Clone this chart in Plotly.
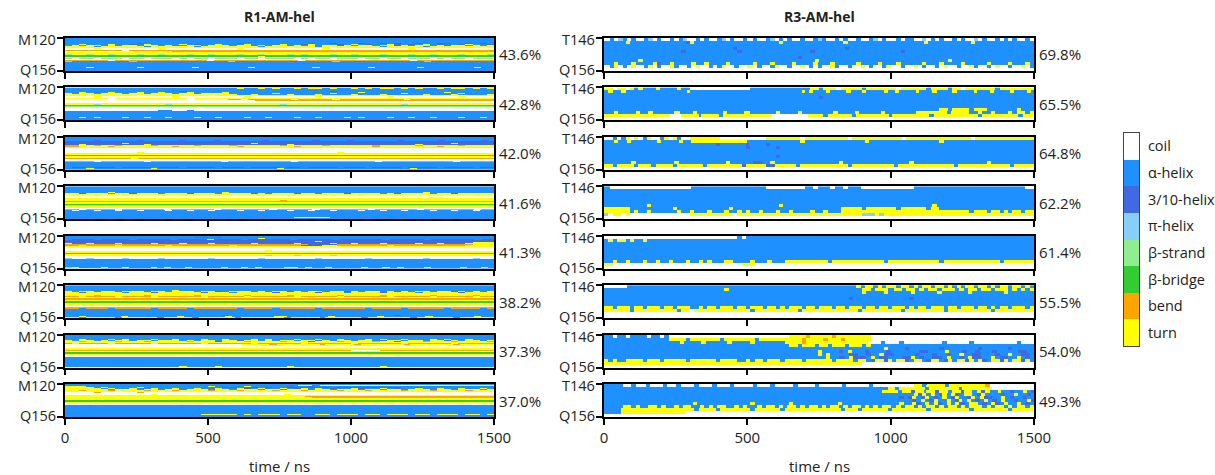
import re
import plotly.graph_objects as go

# ---------------- data ----------------
# DSSP states, bottom -> top in the legend
STATES = ["turn", "bend", "β-bridge", "β-strand", "π-helix", "3/10-helix", "α-helix", "coil"]
STATE_CODE = {"T": 0, "S": 1, "B": 2, "E": 3, "I": 4, "G": 5, "H": 6, "C": 7}
STATE_COLORS = ["#FFFF00", "#FFA500", "#32CD32", "#90EE90", "#87CEFA", "#4169E1", "#1E90FF", "#FFFFFF"]

TITLES = ["R1-AM-hel", "R3-AM-hel"]
LEFT_PCT = ["43.6%", "42.8%", "42.0%", "41.6%", "41.3%", "38.2%", "37.3%", "37.0%"]
RIGHT_PCT = ["69.8%", "65.5%", "64.8%", "62.2%", "61.4%", "55.5%", "54.0%", "49.3%"]
LEFT_RES = ["M120", "Q156"]
RIGHT_RES = ["T146", "Q156"]
N_LEFT = 37
N_RIGHT = 11
T_END = 1500
TIME_TICKS = [0, 500, 1000, 1500]

# Each residue row = DSSP codes spread evenly over 0-1500 ns.
# Tokens separated by spaces; "H40" = 40 units of H; other tokens are literal.
L1 = ["H", "H", "H", "H", "H", "H",
      "HHHHHHHHHHGHHHHHHHHHHHHHGHHHHHHHHHGHHGHHHGHHGHGHHGHHGGHHGHGH",
      "HHTHHHTHHGHTHHHHTHGHHTHHHTHHHHTHHGTHHHGHTHGHHTGHGHTHGHHGTHHG",
      "HTHTTHTHTTHTTHTHHTTHTTTHTTHTHTTHTHTHTTGTHTTHTTGTHTTHTGTTHTHT",
      "TTTTHTTTTTTHTTTTTTHTTTTTTTTHTTTTTTTHTTTTTTTTHTTTTTHTTTTTTTTT",
      "TTCTTTCTTTTTCTTTTCTTTTTTCTTTTTTCTTTTTCTTTTTTCTTTTTTTCTTTTTCT",
      "CCCCTCCCCCCCCTCCCCCCCCCCTCCCCCCCCCCCTCCCCCCCCCCCTCCCCCCCCCCC",
      "C",
      "CCTCCCCCTCCCCCCCCCCTCCCCCCCCCCCCCTCCCCCCCCCCTCCCCCCCCCCCCTCC",
      "SSSSSSSSCSSSSSSSSSSSSSSSSSSSSSSSSSSSSSSSSSSSSSSSSSSSSSSSSSSS",
      "CCCCCCCCTTTTTTTSSSSSSSSSSSSSSSSSSSSSSSSSSSSSSSSSSSSSSSSSSSSS",
      "T",
      "TTTTTTTTTTTTTTTCTTTTTTTTTTTTTTTTTTTTTTTCTTTTTTTTTTTTTTTTTTTT",
      "ETTETTETTTETTETTTETTETTTETTETTTETETTTETTETTTETTTETTETTTETTTE",
      "B",
      "BBBBBBBBBBBBBBBBBBBBBBBBBBBTBBBBBBBBBBBBBBBBBBBBBBBBBBBBBBBB",
      "T",
      "ECEECEEECEECEEECECEECEEECEECEEEECECEECEEECEECEECEEECECEECEEE",
      "C",
      "CCCCCCCCCCCCCCCCCCCTCCCCCCCCCCCCCCCCCCTCCCCCCCCCCCCCCCCCCCCC",
      "SSSSSSCSSSSSSSSSSSSSCSSSSSSSSSSSSCSSSSSSSSSSSSSSSCSSSSSSSSSSS",
      "IHHHHHHHHIHHHHHHHHHHHHHIHHHHHHHHHHHHHHIHHHHHHHHHHHHIHHHHHHHHH",
      "H", "H", "H", "H", "H", "H",
      "HHHTHHHHHHTHHHHHHHTHHHHHHHTHHHHHHHHTHHHHHHHTHHHHHHTHHHHHHHTHH",
      "H", "H", "H"]

L2 = ["H",
      "HHHHHHHHHHHHHHHHHHHHHHHHTHHTHTHHTHTTHTHHTHTHTTHTHTHHTHTTHTHT",
      "H", "H",
      "HHHHHHHHHHHHHHHHGHHHHHHHHHHHHHHHHHHHHGHHHHHHHHHHHHHHHHHHHHHH",
      "HHTHHHTHHHTHHTHHHTHHHHTHHHHHHHHHHHHHHHHHHTHHHHHHHHHHHTHHHHHH",
      "THTTHTTTHTTHTTTHTTHTTTTHHHHHHTHHHHHHHTHHHHHHHHHTHHHHHHHTHHHH",
      "TTTTTTTTTTTTTTTTTTTTTTTTHHTHHHHTHHHTHHHHTHHHTHHHHHTHHHTHHHHT",
      "TTTTTTTTTTTTTTTTTTTTTTTTTTHTTTHTTTTHTTTTHTTTHTTTTTHTTTTHTTTT",
      "TTTCTTTTTTCTTTTTTTTTCTTTTTTTTTTTTTTTTTTTTTTTTTTTTTTTTTTTTTTT",
      "CCCCTCCCCCCCCCCTCCCCCCCCCTCCCCCCCCCTCCCCCCCCCTCCCCCCCCCTCCCC",
      "C",
      "TTTTTTCTTTTTTTTTTCTTTTTTTTTTTTTTTTTTTTTTTTTTTTTTTTTTTTTTTTTT",
      "CCCCCCCCCCCCCCCCCCCCCCCSSCSSSSSSCSSSSSCSSSSSSSSSCSSSSSSSSSSSS",
      "CCCCCCCCCCCCCCCCCCCCCCCCCCCSSSSSSSSSSSSSSSSSSSSSSSSSSSSSSSSSS",
      "C", "C", "T", "T",
      "TTTTETTTTTTTTTETTTTTTTTTTTTTTTETTTTTTTTTTTTTTTTETTTTTTTTTTTT",
      "B", "E", "T", "C", "C",
      "CCCCCCCCCCCCCHHCCHCCCCCCCCCCCCCCCCCCCCCCCCCCCCCCCCCCCCCCCCCC",
      "H", "H", "H", "H", "H", "H", "H",
      "HHTHTHHHTHHTHHTHHHTHHTHHHTHHTHHHTHHTHHHTHTHHHTHHTHHTHHHTHHTH",
      "H", "H", "H"]

L3 = ["H", "H", "H",
      "HHHHHHHTHHHHHTHHHHHHHHHHHHHHHHHTHHHHTHHHHHHHHHHHHHHHTHHHHHHH",
      "HHHHGHHHHHGHHHHHGHHHHGHHHHHHGHHHHHHGHHHHGHHHHHHGHHHHHGHHHHHGH",
      "G", "G",
      "GGGGGGGGTGGGGGGGGGGGGGGGGGTGGGGGGGGGGGGGGGGGGGGGGGGGGGTGGGGG",
      "GGTGGGGGGGGTGGGGGGGGGGGGGGGGGGGTGGGGGGGGGGGGGGGGGTGGGGGGGGGG",
      "SSTTSTTSTTTTSTTTTTSTTTTSTTTTTTSTTTTTSTTTTTTSTTTTTSTTTTTSTTTT",
      "SSTTTTSTTTTTTTTSTTTTTTTTSTTTTTTTSTTTTTTTTTTSTTTTTTTTSTTTTTTT",
      "T", "T", "C", "C", "C", "C",
      "CCCCCCCCCCTCCCCCCCCCCCCCCCCCCCCCCCCCCCTCCCCCCCCCCCCCCCCCCCCC",
      "T", "T", "B",
      "EEBEEEEEEBEEEEEEEEEEEEEBEEEEEEEEEEEEEEEEEEBEEEEEEEEEEEEEEEEE",
      "T", "T",
      "SSSSSSSSSTSSSSSSSSSSSSSSSSSSSSSSSSSSSSSSSSSSSSSSSSSSSSSSSSS",
      "C", "C",
      "SSSSCSSSSSSCSSSSSSSSSSCSSSSSSSSSCSSSSSSSSSSSCSSSSSSSSSSCSSSSS",
      "H", "H", "H", "H", "H", "H",
      "HGGHGGGHGGGGHGGGHGGGGHGGGHGGGGHGGHGGGGHGGGHGGGGHGGGGHGGGGHGG",
      "HHHTHHHHHHHHTHHHHHHHHHHHHHHHHHTHHHHHHHHHHHHHHHHHHTHHHHHHHHHHH",
      "H"]

L4 = ["H", "H", "H", "H", "H", "H",
      "HHHHHHTHHHHHHHHHHHHHHHTHHHHHHHHHHHHHHHHHHHHHHHHHHHTHHHHHHHHH",
      "HTHHTGHTHHTHGHTHHTHGTHHTHTHHGTHHTHTGHHTHHTGHTHTHHGTHTHTHGTHH",
      "TTGTTTHTTGTTTHTTTGTTTHTTTTGTHTTTGTTHTTTGTTTTHTGTTTTHTTGTTTTT",
      "T",
      "CTCCTCCCTCCCCTCCTCCCCTCCCCCTCCCTCCCCCTCCCTCCCCTCCCCCTCCCCTCC",
      "C",
      "CCCCCCCCCCCCCCCCCCCCCCCCCCCCCCCCCCCCCCCCCCCCCCCCCCCTTCCCCCCC",
      "T", "T",
      "TTTTTTTTTTTTTTTTTTTTTTTTTTTTTTSTTTTTTTTTTTTTTTTTTTTTTTTTTTTT",
      "CCCCTCCCCCCCCCCCCTCCCCCCCCCCCCCCCTCCCCCCCCCCCCCCCCCCCCCCCCCC",
      "S", "T", "T", "B", "E", "T", "T", "C",
      "CCCCCCCCCSCCCCCCCCCCCCCCCCCCCCCCCCCCCCCCCCCCCCCCCCCCCCCCCCCC",
      "SSCSSSSCSSSSSSCSSSSSSCSSSSSSSCSSSSSCSSSSSSSCSSSSSSCSSSSSSSCSS",
      "HCHHCHHCHHCHHHCHHCHHCHHHCHHCHHHCHHCHHCHHHCHHCHHCHHHCHHCHHCHH",
      "H", "H", "H", "H", "H", "H",
      "HHHHHHHHHHHHHHHHHHHHHHHHHHHHHHHHTTTTTHHHHHHHHHHHHHHHHHHHHHHH",
      "HHHHHHHHHHHHHHHHHHHHHHHHHHHHHHHHTHTTHTHHHHHHHHHHHHHHHHHHHHHHH",
      "H"]

L5 = ["H",
      "HHHHHHHHHHHHHHHHHHGGHGHHHHHHHHHHHHHHHHHHHHHHHHHHHHHHHHHHHHHH",
      "HHHHHHHHHHHHHHHHHGGGGHGHHHHHHHHHHHHHHHHHHHHHHHHHHHHHHHHHHHHH",
      "HHHHHHHHHHHHHHHHHHHHHHHHHHHTHHHHHHHHHHHHHHHHHHHHHHHHHHHHHHHH",
      "HGGGHGGGGHGGGGGHGGGGTGGGGHGGGGGGHGGGGGHGGGGGGHGGGGGHGGGGGGHGG",
      "G",
      "GGGGGGGGGGGGGGGGGGGGGGGGGGGGGGGGGGGTGGGGGGGGGGGGGGGGGGGGGGGG",
      "GGGGGGGGGGGGGGGGGGGGGGGGGGGGGGGGGGGGGGGGGGGGGGGGGGGGGGGGGTTT",
      "TGGTGGGTGGGGTGGGTGGGTGGGGGTGGGGGTGGGGTGGTGGGTGGGGTGGTGGGTTTT",
      "SSSSSSSSSSSSSSSSSSSSSSSSSSSSSSSSSSGGGGSSSSSSSSSSSSSSSSSSSTTT",
      "SSTSSSSTSSSSSSTSSSSSSSSTSSSSSSSSSGGGTTSSSSSSSTSSSSSSSSSSTTTT",
      "T", "T", "C", "C", "C",
      "CCCCCCCCCCCCCCCCCCCCCCCCCCCCTCCCCCCCCCCCCCCCCCCCCCCCCCCCCCCC",
      "T", "T", "B",
      "TTTTTTTTTTTTTTTTTTTTTTTTTTTTEETETEETEETETETTTTTTTTTTTTTTTTTT",
      "T",
      "TTTTTTTTTTTTTTTTTTTTTTTTTTTTETTTETTTTETTTTTTTTTTTTTTTTTTTTTT",
      "C", "C",
      "ICCICCCCICCCCICCCCCCICCCCCCICCCCCCCICCCCCCICCCCCCCICCCCCCICC",
      "H", "H", "H", "H", "H", "H", "H", "H",
      "H",
      "ITHHHTHHTHHHTHTHHTHHHHTHHTHTHHHTTHTHHTHHHHTHHTHTHHHTHHHHTHHTH",
      "IIIIIHHHHHHHHHHHHHHHHHHHHHHHHHHHHHHHHHHHHHHHHHHHHHHHHHHHHHHH"]

L6 = ["H", "H", "H", "H", "H",
      "HHHHHHHHHHHHHHHTHHHHHHHHHHHHHHHHHHHHHHHHHHHHHHHHHHHHHHHHHHHH",
      "HHHHTHHHHHHTHHHTTHTHHTTHTHTTHTHTTHTHHTHTTHTHTHTTHTHTHTTHTHTH",
      "THTTHTTHTTTHTTHTTTHTTGHTTTHTHTTGTHTTHTTGTHTTHTGTHTTHTTGTHTHT",
      "TTGTTTTTHTTTGTTTTTTGTTTHTTTTTGTTTTTGTTTHTTTTGTTTTHTTTTTGTTTT",
      "T", "T",
      "TTTTSTTTTTTSTTTTTTSTTTTTTSTTTTTSTTTTTTSTTTTTSTTTTTTSTTTTTSTT",
      "SSTSSSSTSSSSTSSSSSSTSSSSSTSSSSSSTSSSSSTSSSSSSTSSSSSTSSSSSTSS",
      "CTCCTCCCTCCTCCCCTCCCTCCCCTCCCTCCCCTCCCTCCCCTCCCTCCCCTCCCTCCC",
      "S", "S", "S", "T", "B", "B", "T", "T", "T", "C",
      "CTCCCCCTCCCCCCTCCCCCCCCTCCCCCCTCCCCCCCCTCCCCCCTCCCCCCCTCCCCC",
      "S",
      "SSHSSSHSSSSSHSSSSHSSSSSSHSSSSHSSSSSHSSSSSSHSSSSHSSSSSHSSSSHS",
      "H", "H", "H", "H", "H", "H", "H",
      "HHHHHHHHHHHHHHHHHHHHHHGHHHHHHHHHHHHHHHHHHHHHHHGHHHHHHHHHHHHH",
      "HHTHHHHHTHHHHHHHTHHHHHHTHHHHHHTTHHHHHHTHHHHHHTHHHHHHTHHHHHHTHH",
      "TTHTTTTHTTTTTHTTTTHTTTTTHTTTTTTHTTTTHTTTTTHTTTTTTHTTTTTHTTTTT"]

L7 = ["H", "H", "H", "H", "H",
      "HHTHHHTHTHHHTHHTHHHTHHTHHHTHTHHHTHHTHHTHHHTHTHHTHHHTHTHHTHHH",
      "THTTHTHTTHTTHTTTHTHTTHTTGTTHTHTTHTTGTHTTHTTHGTTHTTHTTGTHTTHT",
      "TTSTTTTSTTTSTTTTTSTTTGTTTSTTTTSTTTGTTTSTTTTSTTGTTTSTTTSTTTTS",
      "T", "S",
      "STSSSSTSSSSSTSSSSSSTSSSSSSTSSSSSSTSSSSSSTSSSSSSTSSSSSSTSSSSS",
      "CCCCCCCCCCCCCCCCCCCCCCCCCTTTTSTTTTTTSTTTTSTTTTTTSTTTTTTSTTTTT",
      "CCCCCCCCCCCCCCCCCCCCCCCCCCCCTTTTCCTTTTCCCTTTTCCCCTTTCCCTTTTCCC",
      "C", "C", "T", "T",
      "SSSSSSSSSSSSSSSSSSSSSSSSSSSSSSSSSSSSSSSSCCCCSSSSSSSSSSSSSSSS",
      "T", "T", "B", "B", "T", "C", "C", "H",
      "H", "H", "H", "H", "H", "H", "H", "H", "H",
      "HHHHHHHHHHHHHHHHTHHHHTHHHHHHHHHTHHHHHHHHHHHHTHHHHHHHHHHHHHHH",
      "CCCCCCCCCCCCCCCCTTTTTTTTTTTTTTTTTTTTTTTTTTTTTTTTTTTTTTTTTTTT"]

L8 = ["H",
      "HHHHHHHHHHHHHHHHHHHHHHHHHHHHHHHHHCCHCCCCCCCCCCCCCCCCCCCCCCCCC",
      "TTTHHHHHHHHHHHHHHHHHTHHHHTHHHHHGHHGHHHHHHHHHHHHHHHHHHHHHHHHH",
      "TTTTHTHHHHTHHHHHHHHHHHGGHGGHGHHGGGGGGHGGGGGGGGGHHGHHHHHHHHHH",
      "TTTHTTHHTHHHHTHHHHHTHHGHGGGHGGHGGGGHGGGGHGGGGGHGGHHHTHHHHTHH",
      "TTTTTHTHHTHHTHHTHHTHHTHHTGHTHHTHGTHTHGHHTGHHTHGHHTHHTHHTHHTH",
      "TTTTTTHTTTHTTHTTHTTTHTTHTTTHTTHTTTHTTHTTTHTTHTTHTTTHTTHTTTHT",
      "TTSTTTSTTTTSTTTSTTTTSTTTSTTTTSTTTSTTTTSTTTSTTTTSTTTSTTTTSTTT",
      "TTCTTTTCTTTTTCTTTTTTTTTTTTTTTTTTTTTTTTTTTTTTTTTTTTTTTTTTTTTT",
      "CCCCSCCCCCSCCCCCCCCCCCCCCCCCCCCCCCCCCCCCCCCCCCCCCCCCCCCCCCCC",
      "C",
      "CCCCCCCCCCCCTCCCCCCCCCCCCCCCCCCTCCCCCCCCCCCCCCCCCCCCCCCCCCCCC",
      "T",
      "TTTTTTTTTTTTTTTTTTTTTTTTTTTTTTTTTTTSSSSSSTSSSSSSSSSSSTTTTTTT",
      "TTTTTTTTTTTTTTTTTTTTTTTTTTTTTTTTTTSSSSSSSSSSSSSSSSSSSSSSSSSSS",
      "TTTTTTTTTTTTTTTTTTTTTTTTTTTTTTTTTTTSSSSSSSSSSSSSSSSSSSSSSSSSS",
      "T", "T", "B", "B", "T",
      "CCCCTCCCCCCCCCCTCCCCCCCCCCCCCCCCCCCTCCCCCCCCCCCCCCCCCCCCCCCCC",
      "C", "S",
      "H", "H", "H", "H", "H", "H", "H", "H", "H",
      "H",
      "HHHHHHHHHHHHHHHHHHHTTTTTHTHTTTHTTHHTTHTTTHTTHTTTHTTHTTTHTTHT",
      "H", "H"]

# right column: 100 units per row (15 ns each)
R1 = ["CHCIHCHCCHICHCCHCHICCHCHCCHICHCCHCHCCHICHCHCCHCCHIHCCHCHCCHCCHICHCCHCHHCCICHCHCCHCHCCICHCCHCHCHCCHC",
      "H5 T H13 GT H20 T H14 T H18 T H10 T H14",
      "H",
      "H30 G H25 G H43",
      "H18 G H12 G H16 G H20 G H30",
      "H",
      "H45 G H54",
      "H8 T H40 T H30 T H19",
      "HHTHHHTHHHHTGHHTHHHHTHHTHHHHTHHHHHTHHHTHHHHTHHHHTHHHTHHHHHTHHHHTHHHTHHHHHTHHHTHHHHTHHHHHTHHHHTHHHTH",
      "CHTCHCTCCHTCHCCTHCCHCTCCHCHTCCHCCTCHCCHTCCHCCTCHCHCCTHCCHCCTCHCCHTCCHCCTCHCCHCTCCHCCTHCCHCTCCHCCTCH",
      "C"]

R2 = ["TTCTTCT HTHHHTHHHHTHH C14 H14 TTHTTTCTTTTTHTTTTTTTCTTTTTTHTTTTHTTCTTTTTTTHTTTTTTTT",
      "HTHHT H15 THH H25 T HTHHHTHHHHTHHHTHHHHTHHTHHHHTHHHTHHHHTHHHHTHHHTHHHHTHHHTH",
      "H",
      "H50 G H49",
      "H", "H", "H",
      "H78 TTHTTTT H TTT H7 T H3",
      "HHTHHHHTHHTHHHHHTHHHTHHHHHHTHHHHTHHHHHHTHHHHTHHHHHHHTHHHHTHHHHHTHHHHHHHTTTTTTTHTTTTHHTHHTHHHTHTTHT",
      "TTTTTTTTTTTTTTTT CCC TTTTHTTTTHTTTTTTTTTTTT C9 TTTTHTTTTTTHTTTTTTTTHTTTTTTTTTHTTTTTTTTTTTHTTTTTTTTTHTTT",
      "C"]

R3 = ["CCHCHTCTCHTCCHTCTHCC T7 C11 TTTTTTTTCTTTTTTTTTTCTTTTTTTTTTTTCTTTTTTTTTTTTTTTCTTTTTTTTTTTTTT",
      "HHTHHTHHHHHHTHHHHTHH T7 TTTTTTHHHHH HHHHHHHTHHHHHHHHHHHHHHTHHHHHHHHHHHHHHHHTHHHHHHHHHHHHHHHHHHHHH",
      "H26 G H6 G H4 G H62",
      "H33 G H6 G H59",
      "H",
      "H",
      "H40 G H59",
      "H",
      "HHHHHHTHHHHHHHHHTHHHHHHHHHHHTHHHHHGGHHTHHHHHHHHHHHHHHHTHHHHHHHHHHHHHHHTHHHHHHHHHHHHHHHHHTHHHHHHHHHH",
      "TTHTTTTHTTTHTTTTHTTTTTTHTTTTTTTTGTTTTTGGTTTTTHTTTTTTTTTTTHTTTTTTTTTTHTTTTTTTTTTTTTHTTTTTTTTTTTTHTTTTT",
      "C"]

R4 = ["H CCCCCCCCCCCCCCCCCCC H17 C9 HHCHHHCHHCHHHC CCCCCCCCCCC HHHHHHHHHHHHHHHHHHHHHHHHHHCC",
      "H", "H", "H", "H", "H",
      "H10 T H30 T H35 T H23",
      "TTTTTTHHHHHHHHHHTHHHHHHHHHHHHTHHHHHHHHHHHHHHHHHHHHHHHHHTTTTTHTTTTTTTHTTTTTTHTTHHHHHHHHHHHHHHHHHHHHHH",
      "TTTTTTHTHHTHHHHHHTHHTHHHTHHHTHHTHTHHTHHHTHHTHHHHTHHTHHHTTTTTTTTTTTTTTTTTTTTTTTTTTTTTTHTTTHTTHTHTTHTT",
      "ICTTCTCCCCCCCCCCCCCCTTTTTTTTTTCTTTTTTTTTTTTTTTTTTTTTTTTTTTTTIIITITTTTTTTTTTTTTTTTTTTTTTTTTTTTTTTTTTT",
      "C"]

R5 = ["C31 HCH H66",
      "HTHTTHTHHT H90",
      "H", "H", "H", "H", "H", "H",
      "HHTHHTHHHTHHTHHTHHHTHHTHTHHHTTHHHHTHHHTH HH TTTTTTTTTTHTTTTTTTTTTTTHTTTTTTTTTTTTHTTTTTTTTTTTTTHTTTTTTT",
      "TT C30 TTT C65",
      "C"]

R6 = ["CCCCC H53 THTTHTHTTHTTHTHTTHTTHTHTHTTHTTHTHTTHTTHTH",
      "H27 T H30 TTHTTTHTTHTTHTHTTHTTTHTHTTHTTHTTTHTHTHT",
      "H58 THHHHTHHHHHTHHHHHTHHHHHHTHHHHHHHTHHHHHH",
      "H",
      "H57 G H13 G H28",
      "H", "H",
      "TTHTTTHTTHTTTHTTHTTTHHTHTTHTTTHTTHTTTHTTHTHTTTHTTHTTTHTTHTTTHTTHTTHTTTHTHTTHTTTHTTHTTTHTTHTHTTHTTTHT",
      "TTTTTTHTTTTTTTTTTHTTCTTTTTTTTTTTTTHTTTTTTTTTTHTTTTTTTTTTTTTHTTTTTTTTTHTTTTTTTTTHTTTTTTTTTTHTTTTTTTTT",
      "C", "C"]

R7 = ["HHCHHCHHHHCHHCH C28 TTTTSTTTTTSTTTTTTTT C38",
      "H15 TTTTHTTTTTTTHTTTTTTTHTTTTTTT TTTSTTTTSTTTSTTTTTT C38",
      "H15 HHTHHHHTHHHHHTHHHHTHHHHHHH TTTTSTTTTTTTTTTTTTT CCCHCCCHCCCCCCCCCHCCCCCHCCCCCCCCCCHCCC",
      "H43 TTHTTTHTTHTTTHTTTHT H38",
      "H62 HHHTHHHHGHHHHHHHGHHHHHHHHGHHHHHHGHHHHH",
      "H50 THHHHGHTHHHGHHHHGHHHHHHHGGHHHHTHHHGHHGHHHGHHHHHGGHH",
      "H48 THTHHHHGGHHGHHTGGHHHHHGHHHGHHGHHTHHGGHHHGHHTHHGGH",
      "H50 THHGHTGGGHTHGGHHHGGTHGHHGGHTHHGHTGGHHTHGGHHTHGH",
      "THTHHTTTTHTTTHTTTTTHTTTTTTHTTTTHHTHTTHTTTHTTTTHTTTTTTHTTTTHTTHGTTGTHTTGHTTHGTTHGTHTTGTHTGHTTGTHTTGTH",
      "T60 C40",
      "C"]

R8 = ["HHHH CCHCCHCCCHCCHCCCHCCCHCCCHCCCCHCCCHCCCCHCCCCHCCCCCHCCCCCHCCC C6 TTHTTTTHTTTTTTTT S CCCCCCCCCC",
      "H67 TTHTTT TTTHTTTTTTTHTTTTTT T CCCCCCCCCC",
      "H67 TTTTHT TGTTHTTGTTHTTGTTHTGT HHTHHGHHTHG",
      "H73 HTGTHTHGTHTGHTTHGTH HHHGHHTHHGH",
      "H70 GHG THGTHGHTHGTHHGTHTG GHHTHGHHGHH",
      "H73 GHTHGTHHTHGTHTHGHT HGHTHHGHHTG",
      "H20 T H12 T H8 T H10 T H13 THHTGHTHTGHTHTGHTTHG HTGHTHHTHGH",
      "HHHHTTHTHHTTHTHHTHTTHHTHTHTTHHTHTHHTHTTHTHTTHTHTTHTHTTHTHTTHTHTHTTHTHTTHTHTTHTHTTHTHTTTHTHTTHTHTTHT",
      "HHHHTTTTTTTTTTTTTTTTTHTTTTHTTTTTTTHTTTTTTHTTTTTTTTTTTTTHTTTHTTTTTTHTTTTTTTTHTTTTTTTTTHTTTTTTTTHTTTTT",
      "HHHH T15 C81",
      "C"]

LEFT_PANELS = [L1, L2, L3, L4, L5, L6, L7, L8]
RIGHT_PANELS = [R1, R2, R3, R4, R5, R6, R7, R8]

# ---------------- helpers ----------------
NBIN = 300  # time bins of 5 ns


def decode(row):
    out = []
    for tok in row.split():
        m = re.fullmatch(r"([A-Z])(\d+)", tok)
        if m:
            out.append(m.group(1) * int(m.group(2)))
        else:
            out.append(tok)
    return "".join(out)


def expand(rows, nres):
    rows = list(rows)[:nres]
    while len(rows) < nres:
        rows.append("H")
    z = []
    for r in rows:
        s = decode(r)
        k = len(s)
        z.append([STATE_CODE[s[(j * k) // NBIN]] for j in range(NBIN)])
    return z


nst = len(STATES)
colorscale = []
for i, c in enumerate(STATE_COLORS):
    colorscale.append([i / nst, c])
    colorscale.append([(i + 1) / nst, c])

W, H = 1215, 475
XL = (65, 494)
XR = (604, 1034)
TOP0, STEP, PH = 38.0, 49.43, 33.0

FONT = dict(family="Open Sans", size=15, color="#222222")
YLAB_FONT = dict(family="Open Sans", size=14.5, color="#222222")
TITLE_FONT = dict(family="Open Sans", size=14, color="#222222")
LEG_FONT = dict(family="Open Sans", size=14.5, color="#222222")

fig = go.Figure()
layout = {}
annotations = []

for col, (panels, nres, labels, pcts, xr) in enumerate([
        (LEFT_PANELS, N_LEFT, LEFT_RES, LEFT_PCT, XL),
        (RIGHT_PANELS, N_RIGHT, RIGHT_RES, RIGHT_PCT, XR)]):
    for i, panel in enumerate(panels):
        k = col * 8 + i + 1
        sfx = "" if k == 1 else str(k)
        z = expand(panel, nres)
        fig.add_trace(go.Heatmap(
            z=z, x0=T_END / NBIN / 2, dx=T_END / NBIN, y0=0, dy=1,
            zmin=-0.5, zmax=nst - 0.5, colorscale=colorscale,
            showscale=False, xaxis="x" + sfx, yaxis="y" + sfx,
            hoverinfo="skip",
        ))

        top = TOP0 + STEP * i
        bot = top + PH
        ydom = [1 - bot / H, 1 - top / H]
        xdom = [xr[0] / W, xr[1] / W]
        bottom = (i == len(panels) - 1)
        layout["xaxis" + sfx] = dict(
            domain=xdom, anchor="y" + sfx, range=[0, T_END],
            tickvals=TIME_TICKS, ticks="outside", ticklen=6, tickwidth=1.5,
            tickcolor="black", showticklabels=bottom, showline=True,
            linecolor="black", linewidth=1.5, mirror=True, showgrid=False,
            zeroline=False, tickfont=FONT, automargin=False,
        )
        layout["yaxis" + sfx] = dict(
            domain=ydom, anchor="x" + sfx, range=[nres - 0.5, -0.5],
            tickvals=[-0.5, nres - 0.5], ticks="outside", showticklabels=False,
            ticklen=6, tickwidth=1.5, tickcolor="black", showline=True,
            linecolor="black", linewidth=1.5, mirror=True, showgrid=False,
            zeroline=False, automargin=False,
        )
        # residue labels at the two ends of the y axis
        annotations.append(dict(
            x=(xr[0] - 8) / W, y=1 - (top + 1.5) / H, xref="paper", yref="paper",
            text=labels[0], showarrow=False, xanchor="right", yanchor="middle",
            font=YLAB_FONT, borderpad=0,
        ))
        annotations.append(dict(
            x=(xr[0] - 8) / W, y=1 - (bot - 1.5) / H, xref="paper", yref="paper",
            text=labels[1], showarrow=False, xanchor="right", yanchor="middle",
            font=YLAB_FONT, borderpad=0,
        ))
        annotations.append(dict(
            x=(xr[1] + 3) / W, y=1 - (top + PH / 2) / H, xref="paper", yref="paper",
            text=pcts[i], showarrow=False, xanchor="left", yanchor="middle", font=FONT,
        ))
    annotations.append(dict(
        x=(xr[0] + xr[1]) / 2 / W, y=1 - 17 / H, xref="paper", yref="paper",
        text="<b>%s</b>" % TITLES[col], showarrow=False, xanchor="center",
        yanchor="middle", font=TITLE_FONT,
    ))
    annotations.append(dict(
        x=(xr[0] + xr[1]) / 2 / W, y=1 - 466 / H, xref="paper", yref="paper",
        text="time / ns", showarrow=False, xanchor="center",
        yanchor="middle", font=FONT,
    ))

# legend: a one-column heatmap with its own axes
fig.add_trace(go.Heatmap(
    z=[[v] for v in range(nst)], x0=0, dx=1, y0=0, dy=1,
    zmin=-0.5, zmax=nst - 0.5, colorscale=colorscale, showscale=False,
    xaxis="x17", yaxis="y17", hoverinfo="skip",
))
layout["xaxis17"] = dict(
    domain=[1124 / W, 1139 / W], anchor="y17", range=[-0.5, 0.5],
    showticklabels=False, ticks="", showline=True, linecolor="#444444",
    linewidth=1, mirror=True, showgrid=False, zeroline=False,
)
layout["yaxis17"] = dict(
    domain=[1 - 346 / H, 1 - 133 / H], anchor="x17", range=[-0.5, nst - 0.5],
    side="right", tickvals=list(range(nst)), ticktext=STATES,
    ticks="outside", ticklen=5, tickcolor="rgba(0,0,0,0)",
    showline=True, linecolor="#444444", linewidth=1, mirror=True,
    showgrid=False, zeroline=False, tickfont=LEG_FONT, automargin=False,
)

fig.update_layout(
    width=W, height=H, autosize=False,
    margin=dict(l=0, r=0, t=0, b=0),
    paper_bgcolor="white", plot_bgcolor="white",
    font=FONT, annotations=annotations, showlegend=False,
    **layout,
)

fig.write_html("out.html")
